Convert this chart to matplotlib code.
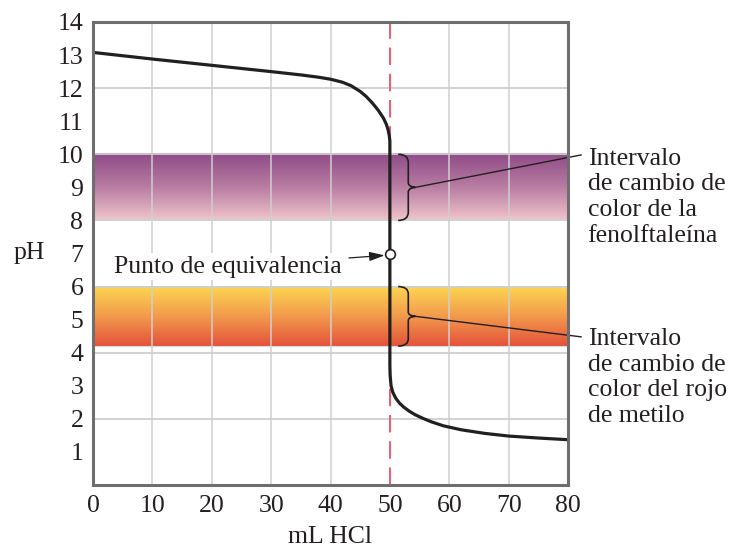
import numpy as np
import matplotlib
matplotlib.use('Agg')
from matplotlib import pyplot as plt
from matplotlib.colors import LinearSegmentedColormap
from matplotlib.path import Path
from matplotlib.patches import PathPatch

# titration curve
ml_hcl = [0, 10, 20, 30, 35, 38, 40, 42, 43.5, 45, 46, 47, 48, 48.9, 49.4, 49.7, 49.9, 50.0,
          50.0, 50.05, 50.2, 50.5, 51.0, 51.6, 52.3, 53.2, 54.2, 55.5, 57, 59, 62, 66, 70, 75, 80]
ph = [13.08, 12.88, 12.69, 12.5, 12.4, 12.33, 12.27, 12.18, 12.07, 11.9, 11.75, 11.56, 11.34, 11.1,
      10.91, 10.74, 10.56, 10.4,
      3.6, 3.3, 3.0, 2.8, 2.62, 2.48, 2.36, 2.24, 2.13, 2.02, 1.91, 1.79, 1.67, 1.56, 1.48, 1.42, 1.37]

equiv_ml = 50
equiv_ph = 7

phenol_range = (8, 10)
methyl_red_range = (4.2, 6)

phenol_colors = ['#efc4cc', '#b87ca2', '#8f4a88']
methyl_colors = ['#e4523b', '#f29a4c', '#fdd652']

phenol_text = 'Intervalo\nde cambio de\ncolor de la\nfenolftaleína'
methyl_text = 'Intervalo\nde cambio de\ncolor del rojo\nde metilo'

x_ticks = [0, 10, 20, 30, 40, 50, 60, 70, 80]
y_ticks = list(range(1, 15))

plt.rcParams['font.family'] = ['Liberation Serif', 'DejaVu Serif']
fs = 18.5
ink = '#231f20'

fig = plt.figure(figsize=(7.31, 5.48), dpi=100)
ax = fig.add_axes([93 / 731, 1 - 485 / 548, 475 / 731, 463 / 548])
ax.set_xlim(0, 80)
ax.set_ylim(0, 14)

# gradient bands
ramp = np.linspace(0, 1, 256).reshape(-1, 1)
for rng, cols in [(phenol_range, phenol_colors), (methyl_red_range, methyl_colors)]:
    cmap = LinearSegmentedColormap.from_list('band', cols)
    ax.imshow(ramp, cmap=cmap, origin='lower', extent=[0, 80, rng[0], rng[1]],
              aspect='auto', zorder=1, interpolation='bilinear')

# grid
grid_col = '#cfcfcf'
for y in range(2, 14, 2):
    ax.axhline(y, color=grid_col, lw=1.3, zorder=2)
ax.axhline(methyl_red_range[0], color='#d8d8d8', lw=0.8, zorder=2)
for x in x_ticks[1:-1]:
    if x != equiv_ml:
        ax.axvline(x, color=grid_col, lw=1.1, zorder=2)

ax.axvline(equiv_ml, color='#f05a72', lw=1.4, dashes=(9, 4.5), zorder=3)

ax.plot(ml_hcl, ph, color=ink, lw=2.3, zorder=5)
ax.plot([equiv_ml], [equiv_ph], 'o', ms=7, mfc='white', mec=ink, mew=1.2, zorder=6)


def brace(ax, x0, y_top, y_bot, w1=1.7, w2=1.2):
    ym = (y_top + y_bot) / 2
    x1 = x0 + w1
    x2 = x1 + w2
    r = 0.25 * (y_top - y_bot) / 2
    verts = [(x0, y_top), (x1, y_top), (x1, y_top - r),
             (x1, ym + r * 0.6),
             (x1, ym), (x2, ym), (x2, ym),
             (x2, ym), (x1, ym), (x1, ym - r * 0.6),
             (x1, y_bot + r),
             (x1, y_bot), (x0, y_bot)]
    codes = [Path.MOVETO, Path.CURVE3, Path.CURVE3, Path.LINETO,
             Path.CURVE4, Path.CURVE4, Path.CURVE4,
             Path.CURVE4, Path.CURVE4, Path.CURVE4,
             Path.LINETO, Path.CURVE3, Path.CURVE3]
    ax.add_patch(PathPatch(Path(verts, codes), fill=False, color=ink, lw=1.2, zorder=4))
    return x2, ym


tip1 = brace(ax, 51.4, phenol_range[1], phenol_range[0])
tip2 = brace(ax, 51.4, methyl_red_range[1], methyl_red_range[0])

# leader lines out to the labels on the right
ax.plot([tip1[0], 82.2], [tip1[1], 9.98], color=ink, lw=1.0, clip_on=False, zorder=4)
ax.plot([tip2[0], 82.2], [tip2[1], 4.48], color=ink, lw=1.0, clip_on=False, zorder=4)
ax.text(83.3, 10.2, phenol_text, fontsize=fs, va='top', ha='left', linespacing=1.22, color=ink)
ax.text(83.3, 4.75, methyl_text, fontsize=fs, va='top', ha='left', linespacing=1.22, color=ink)

ax.annotate('Punto de equivalencia', xy=(equiv_ml - 0.4, equiv_ph - 0.05), xytext=(3.6, 6.6),
            fontsize=fs, va='center', ha='left', zorder=7, color=ink,
            bbox=dict(boxstyle='square,pad=0.1', fc='white', ec='none'),
            arrowprops=dict(arrowstyle='-|>,head_length=0.5,head_width=0.15', color=ink,
                            lw=0.9, shrinkA=3, shrinkB=2))

# axes styling
for s in ax.spines.values():
    s.set_color('#6e6e6e')
    s.set_linewidth(2.2)
    s.set_zorder(8)

ax.set_xticks(x_ticks)
ax.set_xticklabels([str(x) for x in x_ticks], fontsize=fs)
ax.get_xticklabels()[x_ticks.index(equiv_ml)].set_color('#e8203a')
ax.set_yticks(y_ticks)
ax.set_yticklabels([str(y) for y in y_ticks], fontsize=fs)
ax.tick_params(axis='both', length=0, pad=7, colors=ink)
ax.set_yticks(range(1, 14, 2), minor=True)
ax.tick_params(axis='y', which='minor', direction='in', length=11, width=1.2,
               color='#c0c0c0', left=True, right=True)

ax.set_xlabel('mL HCl', fontsize=fs, labelpad=7, color=ink)
ax.set_ylabel('pH', fontsize=fs, rotation=0, labelpad=20, color=ink, va='center')

fig.savefig('out.png', dpi=100)
